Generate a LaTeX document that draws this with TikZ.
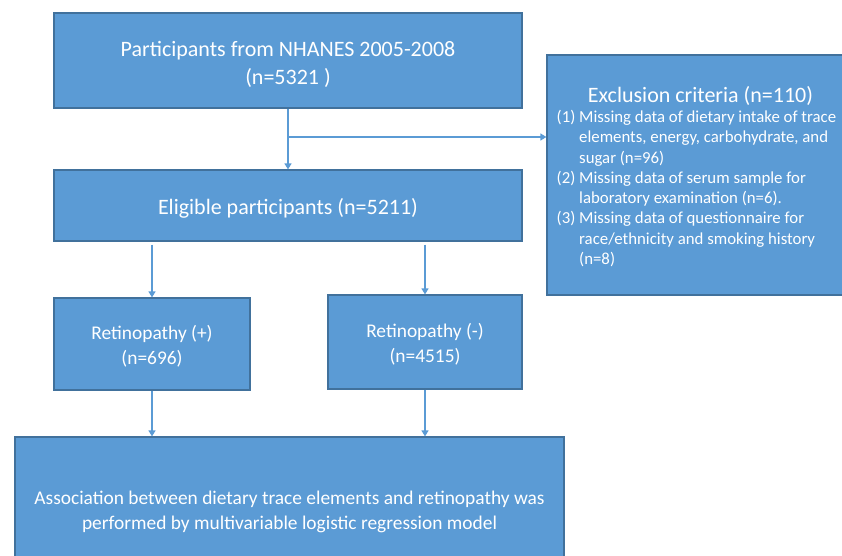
\documentclass[tikz,border=0pt]{standalone}
\usepackage{fontspec}
\setmainfont{Carlito}
\usetikzlibrary{arrows.meta}
\definecolor{boxfill}{HTML}{5B9BD5}
\definecolor{boxline}{HTML}{41719C}
\definecolor{arrowc}{HTML}{5B9BD5}
\newcommand\hind[1]{\hphantom{(#1)}\ }
\newcommand\lowr[2]{\raisebox{-#1}[\height][\depth]{#2}}
\begin{document}
\begin{tikzpicture}[x=1pt,y=-1pt,
  box/.style={draw=boxline, fill=boxfill, line width=1.2pt, text=white, align=center, inner sep=0pt},
  big/.style={font=\fontsize{22}{27.5}\selectfont},
  mid/.style={font=\fontsize{19.4}{24.5}\selectfont},
  small/.style={font=\fontsize{16.8}{20.3}\selectfont},
  arr/.style={draw=arrowc, line width=1.3pt, -{Triangle[width=7pt,length=6pt]}}]
\useasboundingbox (0,0) rectangle (842,555);
\node[box,big,minimum width=468pt,minimum height=95pt] (src) at (288,60.5) {\lowr{4pt}{Participants from NHANES 2005-2008}\\\lowr{4pt}{(n=5321 )}};
\node[box,big,minimum width=468pt,minimum height=71pt] (elig) at (288,205.5) {\lowr{3pt}{Eligible participants (n=5211)}};
\node[box,minimum width=300pt,minimum height=240pt] (excl) at (697,175) {};
\node[text=white,big,anchor=base,inner sep=0pt] (exclt) at (700.5,102) {Exclusion criteria (n=110)};
\node[text=white,small,align=left,anchor=north west,inner sep=0pt] (excll) at (556.5,110) {(1) Missing data of dietary intake of trace\\
\hind{1}elements, energy, carbohydrate, and\\
\hind{1}sugar (n=96)\\
(2) Missing data of serum sample for\\
\hind{2}laboratory examination (n=6).\\
(3) Missing data of questionnaire for\\
\hind{3}race/ethnicity and smoking history\\
\hind{3}(n=8)};
\node[box,mid,minimum width=196pt,minimum height=92pt] (pos) at (152,344) {\lowr{2pt}{Retinopathy (+)}\\\lowr{2pt}{(n=696)}};
\node[box,mid,minimum width=194pt,minimum height=94pt] (neg) at (425,342) {\lowr{2pt}{Retinopathy (-)}\\\lowr{2pt}{(n=4515)}};
\node[box,mid,minimum width=549pt,minimum height=150pt] (model) at (289.5,512) {Association between dietary trace elements and retinopathy was\\performed by multivariable logistic regression model};
\draw[arr] (src.south) -- (elig.north);
\coordinate (br) at (288,137);
\draw[arr] (br) -- (br -| excl.west);
\draw[arr, shorten <=3pt] (elig.south -| pos.north) -- (pos.north);
\draw[arr, shorten <=3pt] (elig.south -| neg.north) -- (neg.north);
\draw[arr] (pos.south) -- (pos.south |- model.north);
\draw[arr] (neg.south) -- (neg.south |- model.north);
\end{tikzpicture}
\end{document}
